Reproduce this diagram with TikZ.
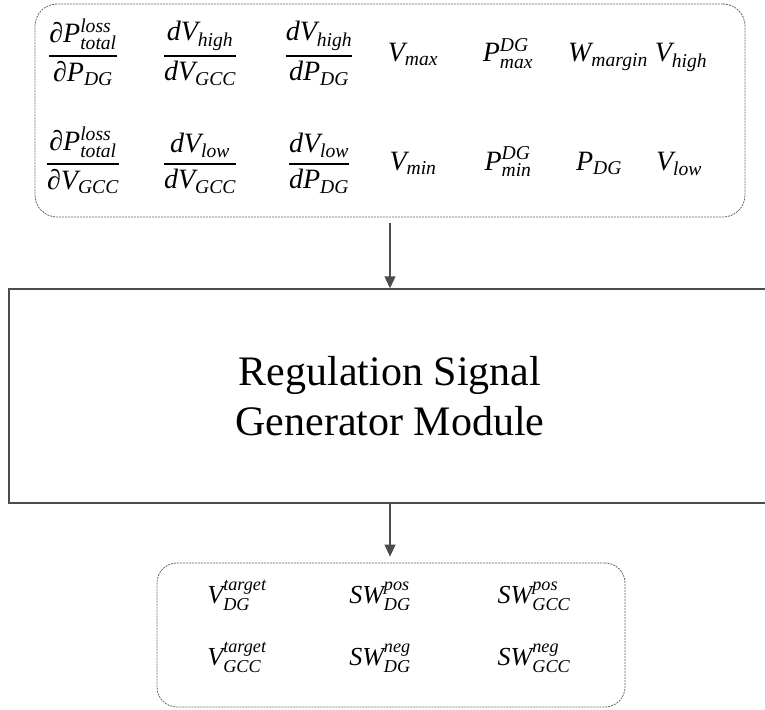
\documentclass[tikz,border=0pt]{standalone}
\usepackage{amsmath}
\usepackage{fontspec}
\setmainfont{Liberation Serif}
\usetikzlibrary{arrows.meta}

% italic symbols set in the text face
\newcommand{\vv}[1]{\text{\normalfont\itshape #1}}
\newcommand{\pd}{\text{\normalfont ∂}}
\newcommand{\fr}[2]{\displaystyle{#1\above 1.6pt #2}}

\tikzset{
  sym/.style={anchor=base, inner sep=0pt, font=\fontsize{28}{34}\selectfont},
  osym/.style={anchor=base, inner sep=0pt, font=\fontsize{26}{32}\selectfont},
  dbox/.style={draw=black!60, line width=0.8pt, dash pattern=on 2pt off 1pt},
  mainbox/.style={draw=black!70, line width=1.4pt, align=center,
    font=\fontsize{42}{50}\selectfont},
  arr/.style={draw=black!70, line width=1.2pt,
    -{Triangle[length=12pt,width=11pt]}}
}

\begin{document}
\begin{tikzpicture}[x=1pt, y=-1pt]
\useasboundingbox (0,0) rectangle (765,709);

% input quantities
\node[dbox, rounded corners=22pt, minimum width=710pt, minimum height=213pt] (inp) at (390,110.5) {};

\node[sym] (f1) at (83,62)  {$\fr{\pd\vv{P}^{\vv{loss}}_{\vv{total}}}{\pd\vv{P}_{\vv{DG}}}$};
\node[sym] (f2) at (200,62) {$\fr{\vv{dV}_{\vv{high}}}{\vv{dV}_{\vv{GCC}}}$};
\node[sym] (f3) at (319,62) {$\fr{\vv{dV}_{\vv{high}}}{\vv{dP}_{\vv{DG}}}$};
\node[sym] (vmax) at (413,62) {$\vv{V}_{\vv{max}}$};
\node[sym] (pmax) at (508,62) {$\vv{P}^{\vv{DG}}_{\vv{max}}$};
\node[sym] (wm) at (608,62) {$\vv{W}_{\vv{margin}}$};
\node[sym] (vhigh) at (681,62) {$\vv{V}_{\vv{high}}$};

\node[sym] (g1) at (83,170)  {$\fr{\pd\vv{P}^{\vv{loss}}_{\vv{total}}}{\pd\vv{V}_{\vv{GCC}}}$};
\node[sym] (g2) at (200,170) {$\fr{\vv{dV}_{\vv{low}}}{\vv{dV}_{\vv{GCC}}}$};
\node[sym] (g3) at (319,170) {$\fr{\vv{dV}_{\vv{low}}}{\vv{dP}_{\vv{DG}}}$};
\node[sym] (vmin) at (413,170) {$\vv{V}_{\vv{min}}$};
\node[sym] (pmin) at (508,170) {$\vv{P}^{\vv{DG}}_{\vv{min}}$};
\node[sym] (pdg) at (599,170) {$\vv{P}_{\vv{DG}}$};
\node[sym] (vlow) at (679,170) {$\vv{V}_{\vv{low}}$};

% generator module
\node[mainbox, minimum width=762pt, minimum height=214pt] (rsg) at (390,396)
  {Regulation Signal\\Generator Module};

% output signals
\node[dbox, rounded corners=20pt, minimum width=468pt, minimum height=144pt] (outp) at (391,635) {};

\node[osym] (vtdg) at (237,603) {$\vv{V}^{\vv{target}}_{\vv{DG}}$};
\node[osym] (swpd) at (380,603) {$\vv{SW}^{\vv{pos}}_{\vv{DG}}$};
\node[osym] (swpg) at (534,603) {$\vv{SW}^{\vv{pos}}_{\vv{GCC}}$};
\node[osym] (vtgc) at (237,665) {$\vv{V}^{\vv{target}}_{\vv{GCC}}$};
\node[osym] (swnd) at (380,665) {$\vv{SW}^{\vv{neg}}_{\vv{DG}}$};
\node[osym] (swng) at (534,665) {$\vv{SW}^{\vv{neg}}_{\vv{GCC}}$};

% connectors
\draw[arr] ([yshift=-6pt]inp.south) -- (rsg.north);
\draw[arr, shorten >=6pt] (rsg.south) -- (rsg.south |- outp.north);
\end{tikzpicture}
\end{document}
